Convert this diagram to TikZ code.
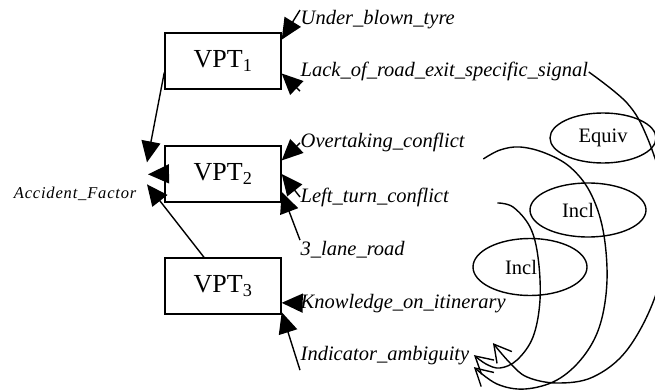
\documentclass[tikz,border=0pt]{standalone}
\usepackage{fontspec}
\setmainfont{Liberation Serif}
\usetikzlibrary{arrows.meta,shapes.geometric}

\begin{document}
\begin{tikzpicture}[x=1pt, y=-1pt, line width=1.4pt,
    vpt/.style={draw, minimum width=116pt, minimum height=56pt, inner sep=0pt,
      font=\fontsize{26}{28}\selectfont},
    cause/.style={anchor=base west, inner sep=0pt,
      font=\fontsize{20.5}{24}\selectfont\itshape},
    rel/.style={draw, ellipse, inner sep=0pt},
    relfont/.style={font=\fontsize{20.5}{24}\selectfont},
    into/.style={-{Triangle[length=21pt,width=19pt]}},
    back/.style={-{Straight Barb[length=17pt,width=19pt]}}]
  \useasboundingbox (0,0) rectangle (655,390);
  \clip (0,0) rectangle (655,390);

  % --- the three VPT boxes ---
  \node[vpt] (vpt1) at (223,61) {VPT\textsubscript{1}};
  \node[vpt] (vpt2) at (223,174) {VPT\textsubscript{2}};
  \node[vpt] (vpt3) at (223,286) {VPT\textsubscript{3}};

  % accident factor (left side)
  \node[anchor=base east, inner sep=0pt,
    font=\fontsize{16.5}{18}\selectfont\itshape\addfontfeatures{LetterSpace=5}]
    (acc) at (137,198) {Accident\_Factor};

  % --- causes (right side) ---
  \node[cause] (under) at (300,25) {Under\_blown\_tyre};
  \node[cause] (lack) at (300,77) {Lack\_of\_road\_exit\_specific\_signal};
  \node[cause] (over) at (300,148) {Overtaking\_conflict};
  \node[cause] (left) at (300,202) {Left\_turn\_conflict};
  \node[cause] (lane) at (300,255) {3\_lane\_road};
  \node[cause] (know) at (300,308) {Knowledge\_on\_itinerary};
  \node[cause] (ind) at (300,360) {Indicator\_ambiguity};

  % --- relations ---
  \node[rel, relfont, minimum width=106pt, minimum height=50pt] (equiv) at (603,138) {Equiv};
  \node[rel, minimum width=116pt, minimum height=54pt,
    label={[relfont, xshift=-10pt]center:Incl}] (inclA) at (588,210) {};
  \node[rel, minimum width=114pt, minimum height=57pt,
    label={[relfont, xshift=-9pt]center:Incl}] (inclB) at (530,267) {};

  % VPTs -> accident factor
  \draw[into] (vpt1.191) -- ([shift={(10,-31)}]acc.east);
  \draw[into] (vpt2.west) -- ([shift={(11,-19)}]acc.east);
  \draw[into] ([xshift=-19pt]vpt3.north) -- ([shift={(10,-9)}]acc.east);

  % causes -> VPTs
  \draw[into] (under.north west) -- (vpt1.20);
  \draw[into] ([yshift=-9pt]lack.south west) -- (vpt1.-12);
  \draw[into] (over.west) -- (vpt2.13);
  \draw[into] (left.west) -- (vpt2.east);
  \draw[into] (lane.north west) -- (vpt2.-17);
  \draw[into] (know.west) -- (vpt3.-16);
  \draw[into] ([yshift=-5pt]ind.south west) -- (vpt3.-24);

  % curved links back to indicator
  \draw[back] plot[smooth, tension=0.6] coordinates {(lack.east) (627,103) (647,137)
    (664,190) (668,235) (655,297) (627,350) (593,377) (557,383) (527,377) (510,363)
    ([shift={(23,-12)}]ind.east)};
  \draw[back] plot[smooth, tension=0.6] coordinates {([shift={(18,16)}]over.east)
    (500,150) (520,147) (545,153) (570,167) (590,192) (603,230) (607,280) (600,325)
    (583,357) (557,380) (525,389) (497,384) ([shift={(4,12)}]ind.east)};
  \draw[back] plot[smooth, tension=0.6] coordinates {([shift={(48,6)}]left.east)
    (513,207) (530,227) (538,257) (540,300) (533,337) (517,360) (500,368) (486,364)
    ([shift={(4,0)}]ind.east)};
\end{tikzpicture}
\end{document}
